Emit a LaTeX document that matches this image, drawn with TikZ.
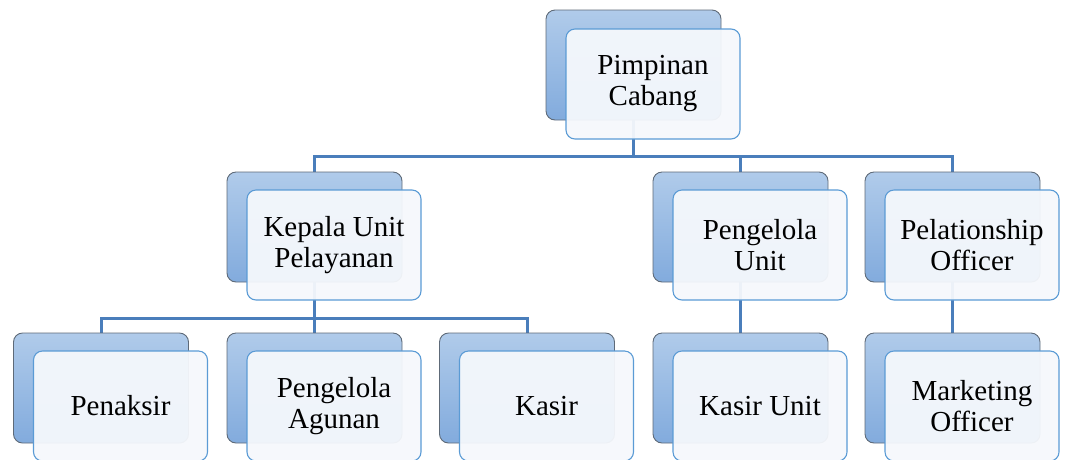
\documentclass[tikz,border=0pt]{standalone}
\usepackage{fontspec}
\setmainfont{Liberation Serif}
\definecolor{backtop}{HTML}{B0CBEA}
\definecolor{backbot}{HTML}{82ABDD}
\definecolor{backdraw}{HTML}{5E6A78}
\definecolor{frontfill}{HTML}{F5F8FC}
\definecolor{frontdraw}{HTML}{5B9BD5}
\definecolor{conncol}{HTML}{4A7EBB}
\begin{document}
\begin{tikzpicture}[x=1pt,y=-1pt,
  backbox/.style={draw=backdraw,line width=0.9pt,rounded corners=9pt,
    top color=backtop,bottom color=backbot,minimum width=175pt,minimum height=110pt,inner sep=0pt},
  frontbox/.style={draw=frontdraw,line width=1.1pt,rounded corners=9pt,
    fill=frontfill,fill opacity=0.95,text opacity=1,minimum width=174pt,minimum height=110pt,
    inner sep=0pt,align=center,font=\fontsize{29}{31}\selectfont},
  conn/.style={draw=conncol,line width=3pt}]
\useasboundingbox (0,0) rectangle (1067,459);
\clip (0,0) rectangle (1067,459);
% positions (back box centres)
\coordinate (p1) at (633.5,65);
\coordinate (p2) at (314.5,227);
\coordinate (p3) at (740.5,227);
\coordinate (p4) at (952.5,227);
\coordinate (p5) at (101,388);
\coordinate (p6) at (314.5,388);
\coordinate (p7) at (527,388);
\coordinate (p8) at (740.5,388);
\coordinate (p9) at (952.5,388);
\coordinate (bus1) at (633.5,156);
\coordinate (bus2) at (314.5,318);
% connectors
\draw[conn] (p1) -- (bus1);
\draw[conn] (p2) |- (bus1) -| (p4);
\draw[conn] (bus1) -| (p3);
\draw[conn] (p5) |- (bus2) -| (p7);
\draw[conn] (p2) -- (p6);
\draw[conn] (p3) -- (p8);
\draw[conn] (p4) -- (p9);
% back boxes
\foreach \i in {1,...,9} {\node[backbox] (b\i) at (p\i) {};}
% front boxes
\node[frontbox] (f1) at ([shift={(19.5,19)}]b1.center) {Pimpinan\\Cabang};
\node[frontbox] (f2) at ([shift={(19.5,18)}]b2.center) {Kepala Unit\\Pelayanan};
\node[frontbox] (f3) at ([shift={(19.5,18)}]b3.center) {Pengelola\\Unit};
\node[frontbox] (f4) at ([shift={(19.5,18)}]b4.center) {Pelationship\\Officer};
\node[frontbox] (f5) at ([shift={(19.5,18)}]b5.center) {Penaksir};
\node[frontbox] (f6) at ([shift={(19.5,18)}]b6.center) {Pengelola\\Agunan};
\node[frontbox] (f7) at ([shift={(19.5,18)}]b7.center) {Kasir};
\node[frontbox] (f8) at ([shift={(19.5,18)}]b8.center) {Kasir Unit};
\node[frontbox] (f9) at ([shift={(19.5,18)}]b9.center) {Marketing\\Officer};
\end{tikzpicture}
\end{document}
